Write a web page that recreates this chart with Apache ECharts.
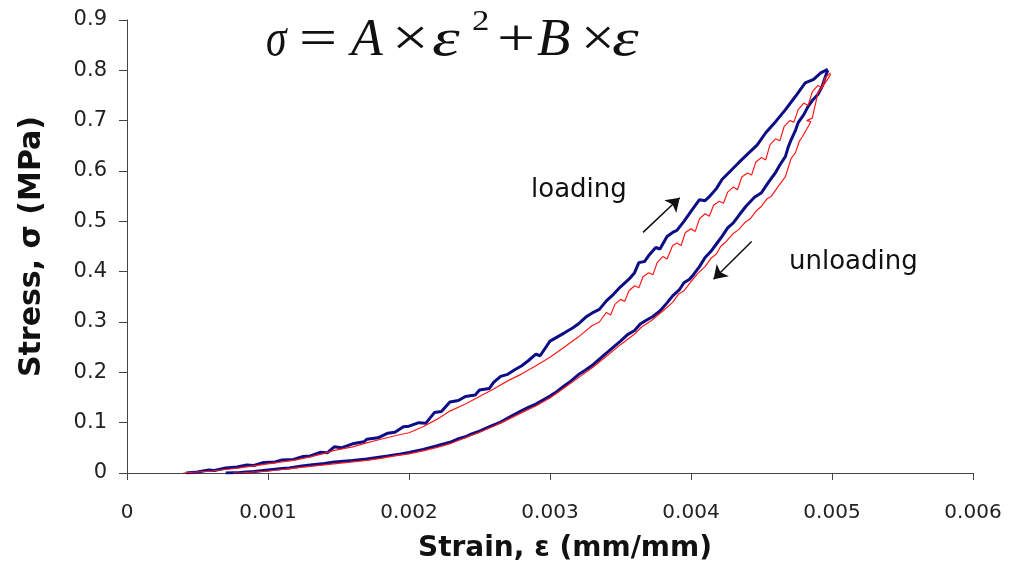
<!DOCTYPE html>
<html>
<head>
<meta charset="utf-8">
<script src="https://cdn.jsdelivr.net/npm/echarts@6/dist/echarts.min.js"></script>
<style>
  html, body { margin: 0; padding: 0; background: #fff; }
  #chart { width: 1011px; height: 582px; }
</style>
</head>
<body>
<div id="chart"></div>
<script>
// strain (mm/mm), stress (MPa)
const blueLoading = [
    [0.00042, 0], [0.0005, 0.002], [0.00058, 0.006], [0.00062, 0.005], [0.0007, 0.01],
    [0.00078, 0.012], [0.00085, 0.016], [0.0009, 0.015], [0.00097, 0.021], [0.00105, 0.022],
    [0.0011, 0.026], [0.00118, 0.027], [0.00125, 0.033], [0.0013, 0.034], [0.00137, 0.041],
    [0.00142, 0.04], [0.00147, 0.052], [0.00152, 0.05], [0.0016, 0.058], [0.00168, 0.062],
    [0.0017, 0.067], [0.00178, 0.07], [0.00185, 0.079], [0.0019, 0.081], [0.00196, 0.092],
    [0.002, 0.093], [0.00207, 0.1], [0.00212, 0.099], [0.00218, 0.12], [0.00223, 0.122],
    [0.00229, 0.141], [0.00235, 0.144], [0.0024, 0.152], [0.00247, 0.155], [0.0025, 0.165],
    [0.00257, 0.168], [0.0026, 0.18], [0.00265, 0.192], [0.0027, 0.196], [0.00275, 0.205],
    [0.0028, 0.213], [0.00285, 0.224], [0.0029, 0.236], [0.00293, 0.233], [0.003, 0.262],
    [0.00305, 0.27], [0.0031, 0.278], [0.00316, 0.288], [0.0032, 0.296], [0.00326, 0.311],
    [0.0033, 0.318], [0.00335, 0.325], [0.0034, 0.342], [0.00345, 0.355], [0.0035, 0.37],
    [0.00356, 0.385], [0.0036, 0.398], [0.00363, 0.418], [0.00367, 0.42], [0.0037, 0.432],
    [0.00375, 0.448], [0.00378, 0.445], [0.00383, 0.47], [0.00387, 0.478], [0.0039, 0.482],
    [0.00395, 0.5], [0.004, 0.52], [0.00406, 0.543], [0.0041, 0.541], [0.00413, 0.549],
    [0.00418, 0.565], [0.00422, 0.583], [0.00428, 0.6], [0.00434, 0.617], [0.00441, 0.636],
    [0.00447, 0.652], [0.00453, 0.676], [0.0046, 0.698], [0.00467, 0.722], [0.00474, 0.748],
    [0.00481, 0.775], [0.00487, 0.782], [0.00492, 0.795], [0.00497, 0.802]
];

const blueUnloading = [
    [0.00497, 0.8], [0.00495, 0.785], [0.00493, 0.768], [0.0049, 0.752], [0.00486, 0.74],
    [0.00483, 0.728], [0.0048, 0.712], [0.00476, 0.696], [0.00474, 0.68], [0.00471, 0.662],
    [0.00469, 0.648], [0.00467, 0.629], [0.00463, 0.612], [0.0046, 0.597], [0.00455, 0.578],
    [0.0045, 0.557], [0.00445, 0.548], [0.00439, 0.53], [0.00434, 0.512], [0.0043, 0.497],
    [0.00426, 0.487], [0.00422, 0.47], [0.00418, 0.455], [0.00414, 0.44], [0.0041, 0.428],
    [0.00406, 0.41], [0.00402, 0.395], [0.00399, 0.385], [0.00395, 0.378], [0.00392, 0.365],
    [0.00387, 0.352], [0.00383, 0.338], [0.00378, 0.322], [0.00373, 0.311], [0.00368, 0.303],
    [0.00364, 0.296], [0.0036, 0.283], [0.00355, 0.275], [0.0035, 0.262], [0.00345, 0.25],
    [0.0034, 0.238], [0.00335, 0.226], [0.0033, 0.214], [0.00325, 0.204], [0.0032, 0.195],
    [0.00315, 0.183], [0.0031, 0.173], [0.00305, 0.162], [0.003, 0.153], [0.00295, 0.145],
    [0.0029, 0.137], [0.00285, 0.131], [0.0028, 0.124], [0.00272, 0.112], [0.00265, 0.101],
    [0.00258, 0.093], [0.0025, 0.083], [0.00244, 0.077], [0.0024, 0.072], [0.00234, 0.067],
    [0.00229, 0.061], [0.0022, 0.054], [0.0021, 0.047], [0.002, 0.041], [0.00194, 0.038],
    [0.00185, 0.034], [0.0018, 0.032], [0.0017, 0.028], [0.0016, 0.025], [0.00147, 0.022],
    [0.0014, 0.019], [0.0013, 0.016], [0.00124, 0.014], [0.00115, 0.01], [0.0011, 0.009],
    [0.001, 0.006], [0.0009, 0.003], [0.0008, 0.001], [0.0007, 0]
];

const redLoading = [
    [0.0004, 0], [0.0005, 0.002], [0.0006, 0.004], [0.0007, 0.007], [0.0008, 0.01],
    [0.0009, 0.014], [0.001, 0.018], [0.0011, 0.022], [0.0012, 0.026], [0.0013, 0.032],
    [0.0014, 0.039], [0.00147, 0.045], [0.0016, 0.052], [0.0017, 0.06], [0.0018, 0.067],
    [0.0019, 0.074], [0.002, 0.08], [0.0021, 0.092], [0.0022, 0.107], [0.00229, 0.123],
    [0.0024, 0.137], [0.0025, 0.152], [0.0026, 0.167], [0.0027, 0.183], [0.0028, 0.197],
    [0.0029, 0.213], [0.003, 0.23], [0.0031, 0.25], [0.0032, 0.27], [0.0033, 0.293],
    [0.00335, 0.3], [0.0034, 0.319], [0.00343, 0.314], [0.00346, 0.335], [0.0035, 0.345],
    [0.00353, 0.341], [0.00356, 0.362], [0.0036, 0.372], [0.00363, 0.368], [0.00366, 0.39],
    [0.0037, 0.398], [0.00373, 0.394], [0.00376, 0.418], [0.0038, 0.43], [0.00383, 0.425],
    [0.00387, 0.452], [0.0039, 0.457], [0.00393, 0.452], [0.00396, 0.478], [0.004, 0.485],
    [0.00403, 0.48], [0.00406, 0.505], [0.0041, 0.515], [0.00413, 0.51], [0.00416, 0.532],
    [0.0042, 0.54], [0.00423, 0.536], [0.00426, 0.558], [0.0043, 0.568], [0.00433, 0.563],
    [0.00436, 0.588], [0.0044, 0.596], [0.00443, 0.592], [0.00446, 0.618], [0.0045, 0.627],
    [0.00453, 0.622], [0.00456, 0.652], [0.0046, 0.664], [0.00463, 0.66], [0.00466, 0.688],
    [0.0047, 0.7], [0.00473, 0.697], [0.00476, 0.722], [0.0048, 0.735], [0.00483, 0.73],
    [0.00486, 0.757], [0.0049, 0.77], [0.00493, 0.766], [0.00495, 0.785], [0.00499, 0.795]
];

const redUnloading = [
    [0.00499, 0.792], [0.00498, 0.787], [0.00494, 0.77], [0.0049, 0.755], [0.00488, 0.73],
    [0.00486, 0.705], [0.00482, 0.7], [0.00485, 0.698], [0.00479, 0.668], [0.00477, 0.66],
    [0.00474, 0.636], [0.00471, 0.625], [0.00467, 0.589], [0.00462, 0.57], [0.00457, 0.55],
    [0.00454, 0.545], [0.0045, 0.53], [0.00446, 0.52], [0.00442, 0.505], [0.00438, 0.497],
    [0.00434, 0.484], [0.0043, 0.476], [0.00425, 0.46], [0.00421, 0.45], [0.00418, 0.435],
    [0.00414, 0.426], [0.0041, 0.41], [0.00405, 0.397], [0.004, 0.38], [0.00395, 0.362],
    [0.00391, 0.355], [0.00387, 0.339], [0.0038, 0.322], [0.00372, 0.303], [0.00365, 0.29],
    [0.0036, 0.276], [0.0035, 0.255], [0.0034, 0.232], [0.0033, 0.209], [0.0032, 0.189],
    [0.0031, 0.169], [0.003, 0.149], [0.0029, 0.133], [0.0028, 0.12], [0.0027, 0.106],
    [0.0026, 0.093], [0.0025, 0.081], [0.0024, 0.07], [0.0023, 0.059], [0.0022, 0.051],
    [0.0021, 0.044], [0.002, 0.038], [0.0019, 0.034], [0.0018, 0.029], [0.0017, 0.025],
    [0.0016, 0.022], [0.0015, 0.019], [0.0014, 0.016], [0.0013, 0.013], [0.0012, 0.01],
    [0.0011, 0.007], [0.001, 0.004], [0.0009, 0.002], [0.0008, 0], [0.00075, 0]
];

// arrow start / end points in data units
const loadingArrow = [[0.00366, 0.478], [0.00392, 0.547]];
const unloadingArrow = [[0.00443, 0.46], [0.00416, 0.385]];

const BLUE = '#0d0d85';
const RED = '#ff1a1a';
const FONT = 'DejaVu Sans';

const chart = echarts.init(document.getElementById('chart'));

function curve(name, data, color, width) {
    return {
        name: name,
        type: 'line',
        data: data,
        showSymbol: false,
        symbol: 'none',
        lineStyle: { color: color, width: width },
        itemStyle: { color: color },
        z: width > 2 ? 2 : 3
    };
}

function arrow(points) {
    return [
        { coord: points[0], symbol: 'none' },
        { coord: points[1], symbol: 'arrow' }
    ];
}

// equation glyphs, placed one by one; each glyph gets its own width stretch
const eqParts = [
    { t: 'σ', x: 266, sx: 0.8, italic: true },
    { t: '=', x: 299, sx: 1.3, italic: false },
    { t: 'A', x: 351, sx: 1.0, italic: true },
    { t: '×', x: 392, sx: 1.25, italic: false },
    { t: 'ε', x: 432, sx: 1.35, italic: true },
    { t: '+', x: 497, sx: 1.3, italic: false },
    { t: 'B', x: 537, sx: 1.05, italic: true },
    { t: '×', x: 581, sx: 1.15, italic: false },
    { t: 'ε', x: 612, sx: 1.3, italic: true }
];

const graphic = eqParts.map(p => ({
    type: 'text',
    left: p.x,
    top: 15,
    scaleX: p.sx,
    style: {
        text: p.t,
        fill: '#111',
        font: (p.italic ? 'italic ' : '') + '52px "Liberation Serif"'
    }
}));
graphic.push({
    type: 'text',
    left: 472,
    top: 8,
    scaleX: 1.2,
    style: { text: '2', fill: '#111', font: '29px "Liberation Serif"' }
});
graphic.push({
    type: 'text',
    left: 531,
    top: 177,
    style: { text: 'loading', fill: '#111', font: '26px "DejaVu Sans"' }
});
graphic.push({
    type: 'text',
    left: 789,
    top: 249,
    style: { text: 'unloading', fill: '#111', font: '26px "DejaVu Sans"' }
});

const option = {
    animation: false,
    backgroundColor: '#fff',
    grid: { left: 127, right: 38, top: 20, bottom: 109 },
    graphic: graphic,
    xAxis: {
        type: 'value',
        min: 0,
        max: 0.006,
        interval: 0.001,
        name: 'Strain, ε (mm/mm)',
        nameLocation: 'middle',
        nameGap: 62,
        nameTextStyle: {
            fontFamily: FONT,
            fontWeight: 'bold',
            fontSize: 28,
            color: '#111',
            padding: [0, 0, 0, 30]
        },
        axisLine: { show: true, lineStyle: { color: '#444', width: 1 } },
        axisTick: { show: true, inside: false, length: 7, lineStyle: { color: '#444' } },
        axisLabel: {
            margin: 30,
            fontFamily: FONT,
            fontSize: 20,
            color: '#222',
            formatter: v => (v === 0 ? '0' : v.toFixed(3))
        },
        splitLine: { show: false }
    },
    yAxis: {
        type: 'value',
        min: 0,
        max: 0.9,
        interval: 0.1,
        name: 'Stress, σ (MPa)',
        nameLocation: 'middle',
        nameGap: 80,
        nameTextStyle: {
            fontFamily: FONT,
            fontWeight: 'bold',
            fontSize: 30,
            color: '#111'
        },
        axisLine: { show: true, lineStyle: { color: '#444', width: 1 } },
        axisTick: { show: true, inside: false, length: 8, lineStyle: { color: '#444' } },
        axisLabel: {
            margin: 20,
            fontFamily: FONT,
            fontSize: 21,
            color: '#222',
            formatter: v => (v === 0 ? '0' : v.toFixed(1))
        },
        splitLine: { show: false }
    },
    series: [
        curve('blue loading', blueLoading, BLUE, 3),
        curve('blue unloading', blueUnloading, BLUE, 3),
        curve('red loading', redLoading, RED, 1.2),
        curve('red unloading', redUnloading, RED, 1.2),
        {
            name: 'arrows',
            type: 'line',
            data: [],
            markLine: {
                silent: true,
                animation: false,
                symbolSize: 13,
                label: { show: false },
                lineStyle: { color: '#111', width: 1.5, type: 'solid' },
                data: [arrow(loadingArrow), arrow(unloadingArrow)]
            }
        }
    ]
};

chart.setOption(option);
</script>
</body>
</html>
